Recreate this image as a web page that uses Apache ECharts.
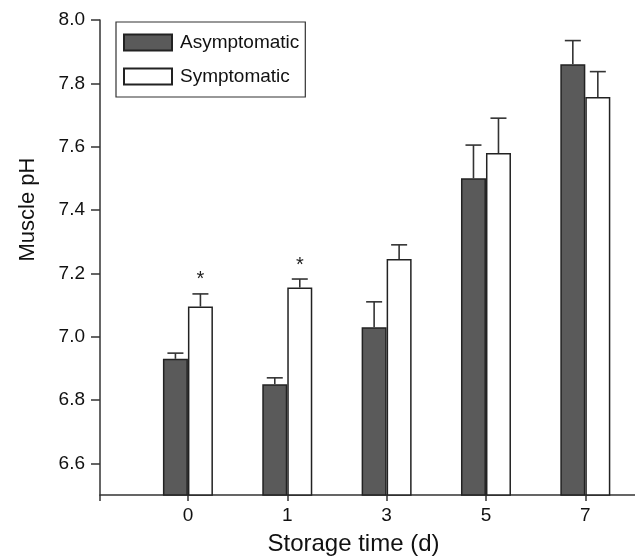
<!DOCTYPE html>
<html>
<head>
<meta charset="utf-8">
<script src="https://cdn.jsdelivr.net/npm/echarts@6/dist/echarts.min.js"></script>
<style>
  html, body { margin: 0; padding: 0; background: #fff; overflow: hidden; }
  #chart { width: 635px; height: 556px; }
</style>
</head>
<body>
<div id="chart"></div>
<script>
// storage days (categories) and tick labels
const days = ['0', '1', '3', '5', '7']
const yTicks = [6.6, 6.8, 7.0, 7.2, 7.4, 7.6, 7.8, 8.0]

// muscle pH, mean and upper error
const asymMean = [6.93, 6.85, 7.03, 7.50, 7.86]
const asymErr = [0.018, 0.02, 0.08, 0.105, 0.075]
const symMean = [7.095, 7.155, 7.245, 7.58, 7.757]
const symErr = [0.04, 0.027, 0.045, 0.11, 0.08]
const sig = ['*', '*', '', '', '']

const font = 'Liberation Sans, Arial, Helvetica, sans-serif'
const barW = 25

function errSeries(name, mean, err, dx, marks) {
  return {
    name: name + ' err',
    type: 'custom',
    z: 5,
    data: mean.map((m, i) => [i, m, err[i]]),
    renderItem(params, api) {
      const x = api.value(0)
      const m = api.value(1)
      const e = api.value(2)
      const p0 = api.coord([x, m])
      const p1 = api.coord([x, m + e])
      const cx = p0[0] + dx
      const style = { stroke: '#333', lineWidth: 1.6 }
      const children = [
        { type: 'line', shape: { x1: cx, y1: p0[1], x2: cx, y2: p1[1] }, style },
        { type: 'line', shape: { x1: cx - 8, y1: p1[1], x2: cx + 8, y2: p1[1] }, style },
      ]
      const mark = marks ? marks[params.dataIndex] : ''
      if (mark) {
        children.push({
          type: 'text',
          style: {
            text: mark, x: cx, y: p1[1] - 14,
            fontSize: 20, fontFamily: font, fill: '#222',
            align: 'center', verticalAlign: 'middle',
          },
        })
      }
      return { type: 'group', children }
    },
  }
}

const chart = echarts.init(document.getElementById('chart'))
chart.setOption({
  animation: false,
  grid: { left: 100, right: 0, top: 20, bottom: 61, outerBoundsMode: 'none' },
  legend: {
    data: ['Asymptomatic', 'Symptomatic'],
    orient: 'vertical',
    left: 116,
    top: 22,
    padding: [11, 6, 11, 7],
    itemGap: 15,
    itemWidth: 48,
    itemHeight: 16,
    borderColor: '#333',
    borderWidth: 1.2,
    icon: 'rect',
    textStyle: { fontSize: 19, fontFamily: font, color: '#111', padding: [0, 0, 0, 3] },
  },
  xAxis: {
    type: 'value',
    min: -0.885,
    max: 4.5,
    splitLine: { show: false },
    axisLine: { lineStyle: { color: '#333', width: 1.5 } },
    axisTick: { customValues: [-0.885, 0, 1, 2, 3, 4], length: 6, lineStyle: { color: '#333', width: 1.5 } },
    axisLabel: {
      customValues: [0, 1, 2, 3, 4],
      formatter: (v) => days[Math.round(v)],
      fontSize: 19, fontFamily: font, color: '#111', margin: 11,
    },
    name: 'Storage time (d)',
    nameLocation: 'middle',
    nameGap: 37,
    nameTextStyle: { fontSize: 24, fontFamily: font, color: '#111', padding: [0, 28, 0, 0] },
  },
  yAxis: {
    type: 'value',
    min: 6.5,
    max: 8.0,
    splitLine: { show: false },
    axisLine: { show: true, onZero: false, lineStyle: { color: '#333', width: 1.5 } },
    axisTick: { show: true, customValues: yTicks, length: 9, lineStyle: { color: '#333', width: 1.5 } },
    axisLabel: {
      customValues: yTicks,
      formatter: (v) => v.toFixed(1),
      fontSize: 19, fontFamily: font, color: '#111', margin: 15,
    },
    name: 'Muscle pH',
    nameLocation: 'middle',
    nameGap: 61,
    nameTextStyle: { fontSize: 22, fontFamily: font, color: '#111', padding: [0, 0, 0, 96] },
  },
  series: [
    {
      name: 'Asymptomatic',
      type: 'bar',
      barWidth: barW,
      barGap: '0%',
      data: asymMean.map((v, i) => [i, v]),
      itemStyle: { color: '#5a5a5a', borderColor: '#222', borderWidth: 1.5 },
    },
    {
      name: 'Symptomatic',
      type: 'bar',
      barWidth: barW,
      barGap: '0%',
      data: symMean.map((v, i) => [i, v]),
      itemStyle: { color: '#fff', borderColor: '#222', borderWidth: 1.5 },
    },
    errSeries('Asymptomatic', asymMean, asymErr, -barW / 2),
    errSeries('Symptomatic', symMean, symErr, barW / 2, sig),
  ],
})
</script>
</body>
</html>
